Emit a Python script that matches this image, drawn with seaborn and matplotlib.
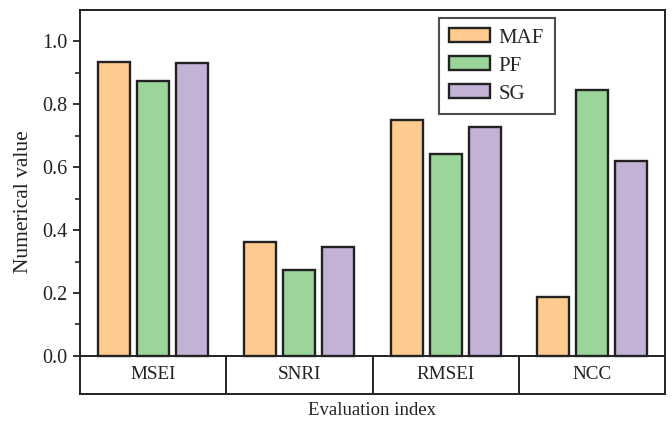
import matplotlib
matplotlib.use("Agg")
import matplotlib.pyplot as plt
import seaborn as sns
import pandas as pd

categories = ["MSEI", "SNRI", "RMSEI", "NCC"]
methods = ["MAF", "PF", "SG"]
maf = [0.936, 0.361, 0.749, 0.189]
pf = [0.873, 0.274, 0.642, 0.845]
sg = [0.930, 0.345, 0.728, 0.619]
colors = ["#FFCB8E", "#9BD59A", "#C3B1D6"]

rows = []
for m, vals in zip(methods, [maf, pf, sg]):
    for c, v in zip(categories, vals):
        rows.append({"Index": c, "Method": m, "Value": v})
df = pd.DataFrame(rows)

sns.set_style("white")
plt.rcParams["font.family"] = ["Liberation Serif", "DejaVu Serif"]

fig = plt.figure(figsize=(6.72, 4.28), dpi=100)
ax = fig.add_axes([80/672, 1 - 394/428, (665-80)/672, (394-10)/428])

sns.barplot(data=df, x="Index", y="Value", hue="Method", order=categories,
            hue_order=methods, palette=colors, width=0.8, gap=0.18,
            edgecolor="#222222", linewidth=1.7, ax=ax, saturation=1)

ymin, ymax = -0.121, 1.10
ax.set_ylim(ymin, ymax)
ax.set_xlim(-0.5, len(categories) - 0.5)

# category table beneath the zero line
ax.axhline(0, color="#222222", lw=1.4)
for i in range(1, len(categories)):
    ax.plot([i - 0.5, i - 0.5], [ymin, 0], color="#222222", lw=1.4)
for i, c in enumerate(categories):
    ax.text(i, ymin / 2, c, ha="center", va="center", fontsize=13.8, color="#222222")

ax.set_xticks([])
ax.set_yticks([0, 0.2, 0.4, 0.6, 0.8, 1.0])
ax.set_yticklabels(["0.0", "0.2", "0.4", "0.6", "0.8", "1.0"])
ax.set_yticks([0.1, 0.3, 0.5, 0.7, 0.9], minor=True)
ax.tick_params(axis="y", which="major", direction="out", length=5, width=1.3,
               labelsize=14.5, colors="#222222", left=True, pad=4)
ax.tick_params(axis="y", which="minor", direction="out", length=3.5, width=1.2, left=True)

for s in ax.spines.values():
    s.set_color("#222222")
    s.set_linewidth(1.4)

ax.set_xlabel("Evaluation index", fontsize=13.5, color="#222222", labelpad=6)
ax.set_ylabel("Numerical value", fontsize=15.5, color="#222222", labelpad=7)

leg = ax.legend(loc="upper left", bbox_to_anchor=((439-80)/585, 1 - (18-10)/384),
                fontsize=15, frameon=True, fancybox=False, edgecolor="#222222",
                handlelength=1.95, handleheight=0.65, labelspacing=0.42,
                borderpad=0.5, handletextpad=0.42, borderaxespad=0)
leg.get_frame().set_linewidth(1.5)
leg.set_title(None)

fig.savefig("out.png", dpi=100, facecolor="white")
